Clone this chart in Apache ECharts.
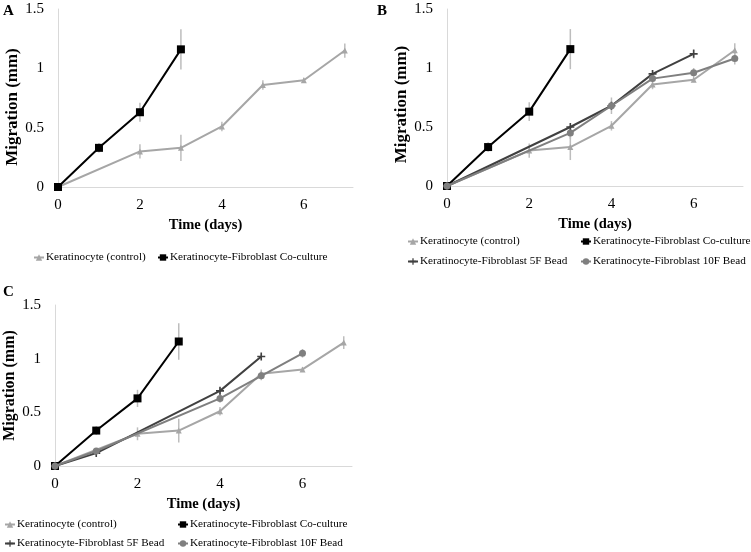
<!DOCTYPE html>
<html>
<head>
<meta charset="utf-8">
<script src="https://cdn.jsdelivr.net/npm/echarts@6/dist/echarts.min.js"></script>
<style>
  html, body { margin: 0; padding: 0; background: #fff; }
  #main { width: 751px; height: 552px; }
</style>
</head>
<body>
<div id="main"></div>
<script>
// keratinocyte alone
var ctrlDays = [0, 2, 3, 4, 5, 6, 7];
var ctrlMig = [0, 0.30, 0.33, 0.51, 0.86, 0.90, 1.15];
var ctrlErr = [0, 0.06, 0.11, 0.04, 0.04, 0.02, 0.06];
// co-culture
var cocDays = [0, 1, 2, 3];
var cocMig = [0, 0.33, 0.63, 1.16];
var cocErr = [0, 0.04, 0.08, 0.17];
// panel B beads
var b5DaysB = [0, 3, 4, 5, 6];
var b5MigB = [0, 0.50, 0.68, 0.95, 1.12];
var b5ErrB = [0, 0.02, 0.03, 0.03, 0.04];
var b10DaysB = [0, 3, 4, 5, 6, 7];
var b10MigB = [0, 0.45, 0.68, 0.91, 0.96, 1.08];
var b10ErrB = [0, 0.05, 0.07, 0.03, 0.04, 0.05];
// panel C beads
var b5DaysC = [0, 1, 4, 5];
var b5MigC = [0, 0.12, 0.70, 1.02];
var b5ErrC = [0, 0.02, 0.03, 0.02];
var b10DaysC = [0, 1, 4, 5, 6];
var b10MigC = [0, 0.14, 0.63, 0.84, 1.05];
var b10ErrC = [0, 0.02, 0.04, 0.04, 0.04];

var xTicks = [0, 2, 4, 6];
var names = ["Keratinocyte (control)", "Keratinocyte-Fibroblast Co-culture",
             "Keratinocyte-Fibroblast 5F Bead", "Keratinocyte-Fibroblast 10F Bead"];

var FONT = "Liberation Serif";
var plusPath = "path://M4,0H6V4H10V6H6V10H4V6H0V4H4Z";

var styles = [
    {color: "#a6a6a6", symbol: "triangle", size: 6, width: 2},
    {color: "#000000", symbol: "rect", size: 8, width: 2},
    {color: "#404040", symbol: plusPath, size: 8, width: 2},
    {color: "#7f7f7f", symbol: "circle", size: 7, width: 2}
];

function pairs(days, vals) {
    return days.map(function (d, i) { return [d, vals[i]]; });
}
function triples(days, vals, errs) {
    var out = [];
    days.forEach(function (d, i) { if (errs[i] > 0) out.push([d, vals[i], errs[i]]); });
    return out;
}

// plain vertical error bar, no caps
function errRender(params, api) {
    var x = api.value(0), y = api.value(1), e = api.value(2);
    var top = api.coord([x, y + e]);
    var bot = api.coord([x, y - e]);
    return {
        type: "line",
        shape: {x1: top[0], y1: top[1], x2: bot[0], y2: bot[1]},
        style: {stroke: "#bdbdbd", lineWidth: 1.5}
    };
}

var series = [];
function addLine(k, panel, days, vals, errs) {
    var s = styles[k];
    series.push({
        name: names[k], type: "line",
        xAxisIndex: panel, yAxisIndex: panel,
        data: pairs(days, vals),
        symbol: s.symbol, symbolSize: s.size, showSymbol: true,
        itemStyle: {color: s.color},
        lineStyle: {color: s.color, width: s.width},
        z: 2 + k, animation: false
    });
    series.push({
        type: "custom", renderItem: errRender,
        xAxisIndex: panel, yAxisIndex: panel,
        data: triples(days, vals, errs), z: 1, animation: false,
        silent: true
    });
}

// A
addLine(0, 0, ctrlDays, ctrlMig, ctrlErr);
addLine(1, 0, cocDays, cocMig, cocErr);
// B
addLine(0, 1, ctrlDays, ctrlMig, ctrlErr);
addLine(1, 1, cocDays, cocMig, cocErr);
addLine(2, 1, b5DaysB, b5MigB, b5ErrB);
addLine(3, 1, b10DaysB, b10MigB, b10ErrB);
// C
addLine(0, 2, ctrlDays, ctrlMig, ctrlErr);
addLine(1, 2, cocDays, cocMig, cocErr);
addLine(2, 2, b5DaysC, b5MigC, b5ErrC);
addLine(3, 2, b10DaysC, b10MigC, b10ErrC);

var grids = [
    {left: 58, top: 9, width: 295, height: 178},
    {left: 447, top: 9, width: 296, height: 177},
    {left: 55, top: 305, width: 297, height: 161}
];

function xAx(i) {
    return {
        type: "value", gridIndex: i, min: 0, max: 7.2, interval: 2,
        name: "Time (days)", nameLocation: "middle", nameGap: 31,
        nameTextStyle: {fontFamily: FONT, fontWeight: "bold", fontSize: 14.5, color: "#000"},
        axisLine: {show: true, lineStyle: {color: "#d9d9d9"}},
        axisTick: {show: false}, splitLine: {show: false},
        axisLabel: {
            fontFamily: FONT, fontSize: 15, color: "#000", margin: 11,
            formatter: function (v) { return xTicks.indexOf(v) >= 0 ? String(v) : ""; }
        }
    };
}
function yAx(i, fs, gap, shift) {
    return {
        type: "value", gridIndex: i, min: 0, max: 1.5, interval: 0.5,
        name: "Migration (mm)", nameLocation: "middle", nameGap: gap,
        nameTextStyle: {fontFamily: FONT, fontWeight: "bold", fontSize: fs, color: "#000",
                        padding: [0, shift, 0, 0]},
        axisLine: {show: true, lineStyle: {color: "#d9d9d9"}},
        axisTick: {show: false}, splitLine: {show: false},
        axisLabel: {fontFamily: FONT, fontSize: 15, color: "#000", margin: 14}
    };
}

function leg(name, left, top) {
    return {
        data: [name], left: left, top: top, padding: 0,
        itemWidth: 10, itemHeight: 8, itemGap: 0,
        selectedMode: false,
        textStyle: {fontFamily: FONT, fontSize: 11.2, color: "#000", padding: [0, 0, 0, -3]}
    };
}

var option = {
    backgroundColor: "#fff",
    animation: false,
    grid: grids,
    xAxis: [xAx(0), xAx(1), xAx(2)],
    yAxis: [yAx(0, 17, 36, 18), yAx(1, 17, 35, 14), yAx(2, 16, 35, 0)],
    legend: [
        leg(names[0], 33, 252), leg(names[1], 157, 252),
        leg(names[0], 407, 236), leg(names[1], 580, 236),
        leg(names[2], 407, 256), leg(names[3], 580, 256),
        leg(names[0], 4, 519), leg(names[1], 177, 519),
        leg(names[2], 4, 538), leg(names[3], 177, 538)
    ],
    graphic: [
        {type: "text", left: 3, top: 4, style: {text: "A", font: "bold 15px 'Liberation Serif'", fill: "#000"}},
        {type: "text", left: 377, top: 4, style: {text: "B", font: "bold 15px 'Liberation Serif'", fill: "#000"}},
        {type: "text", left: 3, top: 285, style: {text: "C", font: "bold 15px 'Liberation Serif'", fill: "#000"}}
    ],
    series: series
};

var chart = echarts.init(document.getElementById("main"));
chart.setOption(option);
</script>
</body>
</html>
